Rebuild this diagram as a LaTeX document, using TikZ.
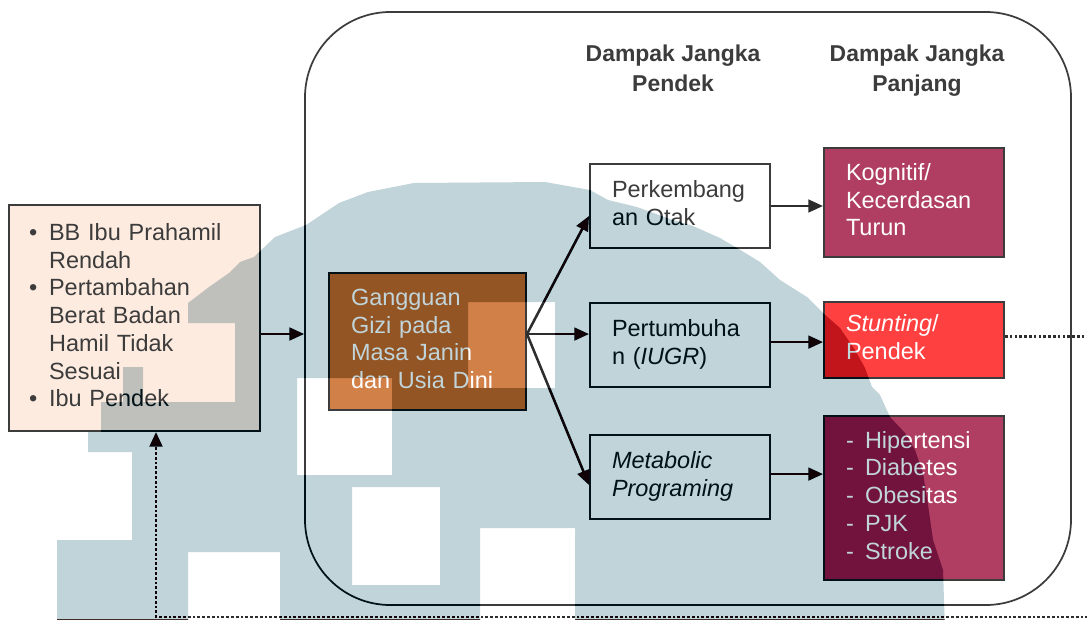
\documentclass[tikz,border=0pt]{standalone}
\usepackage{fontspec}
\setmainfont{Liberation Sans}
\usetikzlibrary{arrows.meta}
\definecolor{lc}{RGB}{60,60,60}
\definecolor{dc}{RGB}{45,45,45}
\definecolor{peach}{RGB}{253,235,224}
\definecolor{orng}{RGB}{209,128,72}
\definecolor{plum}{RGB}{175,62,98}
\definecolor{redb}{RGB}{255,64,64}
\definecolor{wmc}{RGB}{62,43,37}
\newcommand{\bodyfont}{\fontsize{17.6pt}{20.8pt}\selectfont}
\newcommand{\mlines}[1]{\begin{tabular}{@{}l@{}}#1\end{tabular}}
\tikzset{
  bx/.style={draw=lc, line width=1.5pt, inner ysep=0pt, inner xsep=16.5pt,
    text width=102pt, minimum width=135pt, align=left, font=\bodyfont, text=lc},
  arr/.style={draw=dc, line width=1.9pt, -{Triangle[length=11pt,width=9.5pt]}},
  dotline/.style={draw=dc, line width=2.1pt, dash pattern=on 2pt off 1.6pt},
  hd/.style={font=\fontsize{17.2pt}{22.5pt}\selectfont\bfseries, text=lc, align=center},
}
\begin{document}
\begin{tikzpicture}[x=0.75pt, y=-0.75pt]
\fill[white] (0,0) rectangle (1087,619);
\useasboundingbox (0,0) rectangle (1087,619);

% outer frame
\node[draw=lc, line width=1.3pt, rounded corners=64pt, inner sep=0pt,
  minimum width=574.5pt, minimum height=444.75pt] (frame) at (688,308.5) {};

% headers
\node[hd] (h1) at (673,70.7) {\begin{tabular}{@{}c@{}}Dampak Jangka\\Pendek\end{tabular}};
\node[hd] (h2) at (917,70.7) {\begin{tabular}{@{}c@{}}Dampak Jangka\\Panjang\end{tabular}};

% left box
\node[bx, fill=peach, inner xsep=15pt, text width=158.25pt, minimum width=188.25pt,
  minimum height=169.5pt] (L) at (134.5,318)
  {\begin{tabular}{@{}l@{\hspace{8.9pt}}l@{}}
  • & BB Ibu Prahamil\\
    & Rendah\\
  • & Pertambahan\\
    & Berat Badan\\
    & Hamil Tidak\\
    & Sesuai\\
  • & Ibu Pendek
  \end{tabular}};

% central box
\node[bx, fill=orng, text=white, text width=114.75pt, minimum width=147.75pt,
  minimum height=102.75pt] (G) at (427.5,341.5)
  {\mlines{Gangguan\\Gizi pada\\Masa Janin\\dan Usia Dini}};

% short-term boxes
\node[bx, fill=white, minimum height=63pt] (PK) at (680,206) {\mlines{Perkembang\\an Otak}};
\node[bx, fill=white, minimum height=63pt] (PT) at (680,345) {\mlines{Pertumbuha\\n (\textit{IUGR})}};
\node[bx, fill=white, minimum height=63pt] (MP) at (680,477) {\mlines{\textit{Metabolic}\\\textit{Programing}}};

% long-term boxes
\node[bx, fill=plum, text=white, minimum height=81.75pt] (KG) at (914,202.5)
  {\mlines{Kognitif/\\Kecerdasan\\Turun}};
\node[bx, fill=redb, text=white, minimum height=57pt] (ST) at (914,340)
  {\mlines{\textit{Stunting}/\\Pendek}};
\node[bx, fill=plum, text=white, minimum height=123pt] (HT) at (914,498)
  {\begin{tabular}{@{}l@{\hspace{8.4pt}}l@{}}
  - & Hipertensi\\
  - & Diabetes\\
  - & Obesitas\\
  - & PJK\\
  - & Stroke
  \end{tabular}};

% connectors
\draw[arr] ([yshift=-12pt]L.east) -- ([yshift=-12pt]L.east -| frame.west);
\draw[arr] ([yshift=5.6pt]G.east) -- ([yshift=-7.5pt]PK.west);
\draw[arr] ([yshift=5.6pt]G.east) -- ([yshift=5.6pt]G.east -| PT.west);
\draw[arr] ([yshift=5.6pt]G.east) -- ([yshift=-6pt]MP.west);
\draw[arr] (PK.east) -- (PK.east -| KG.west);
\draw[arr] ([yshift=2.2pt]PT.east) -- ([yshift=2.2pt]PT.east -| ST.west);
\draw[arr] ([yshift=2.2pt]MP.east) -- ([yshift=2.2pt]MP.east -| HT.west);

\coordinate (dR) at (1120,617);
\coordinate (dL) at (156,617);
\draw[dotline, -{Triangle[length=11pt,width=9.5pt]}]
  ([yshift=2.5pt]ST.east) -| (dR) -- (dL) -- (dL |- L.south);

% watermark
\begin{scope}[blend mode=difference]
\fill[wmc, even odd rule]
  (188,303) -- (209,287) -- (229,273) -- (240,262) -- (254,257) -- (275,237)
  -- (306,225) -- (339,203) -- (368,192) -- (414,183) -- (545,182) -- (590,190)
  -- (608,200) -- (637,207) -- (667,218) -- (693,226) -- (720,238) -- (737,248)
  -- (760,262) -- (780,280) -- (807,297) -- (823,313) -- (840,328) -- (855,350)
  -- (865,368) -- (872,387) -- (880,395) -- (890,417) -- (905,433) -- (915,450)
  -- (923,473) -- (928,505) -- (933,540) -- (943,570) -- (945,630)
  -- (57,630) -- (57,540) -- (132,540) -- (132,452) -- (88,452) -- (88,432)
  -- (101,432) -- (101,402) -- (123,402) -- (123,367) -- (143,367) -- (143,402)
  -- (235,402) -- (235,323) -- (188,323) -- cycle
  (297,378) rectangle (392,475)
  (352,487) rectangle (440,585)
  (480,528) rectangle (575,630)
  (188,552) rectangle (280,630)
  (468,302) rectangle (555,388);
\end{scope}
\end{tikzpicture}
\end{document}
